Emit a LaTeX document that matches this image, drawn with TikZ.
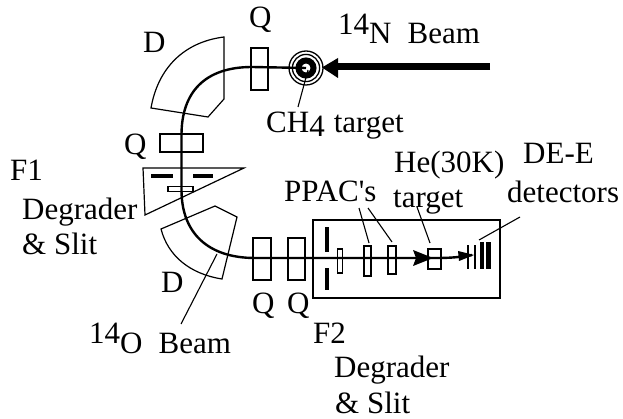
\documentclass[tikz,border=0pt]{standalone}
\usepackage{fontspec}
\setmainfont{Liberation Serif}[Ligatures=TeXOff]
\tikzset{
 lbl/.style={inner sep=0pt,anchor=base west,font=\fontsize{31}{33}\selectfont},
 part/.style={draw=black,line width=1.2pt,inner sep=0pt},
 thinl/.style={draw=black,line width=1.1pt},
 beam/.style={draw=black,line width=2.4pt},
 bar/.style={fill=black,draw=none,inner sep=0pt}
}
\newcommand{\upnum}[1]{\raisebox{9.5pt}{#1}}
\begin{document}
\begin{tikzpicture}[x=1pt,y=-1pt]
\useasboundingbox (0,0) rectangle (623,419);
% dipoles
\draw[part] (224,37) .. controls (184,42) and (158,68) .. (151,108) -- (208,117) -- (224,99) -- cycle;
\draw[part] (161,229) .. controls (168,256) and (190,274) .. (222,279) -- (237,217) -- (215,206) -- cycle;
% triangle F1
\draw[part] (143,168) -- (244,168) -- (145,215) -- cycle;
\node[bar,minimum width=22pt,minimum height=4.5pt] (sl1) at (162,176) {};
\node[bar,minimum width=20pt,minimum height=4.5pt] (sl2) at (203,176) {};
\node[part,minimum width=25pt,minimum height=4.5pt] (slit) at (180.5,189) {};
% quads
\node[part,minimum width=17pt,minimum height=42pt] (q1) at (259.5,69) {};
\node[part,minimum width=43pt,minimum height=18pt] (q2) at (181.5,143) {};
\node[part,minimum width=18pt,minimum height=42pt] (q3) at (262,259) {};
\node[part,minimum width=17pt,minimum height=42pt] (q4) at (296.5,259) {};
% F2 box
\node[part,minimum width=187pt,minimum height=78pt] (box) at (406.5,259) {};
\node[bar,minimum width=4.5pt,minimum height=25pt] (d1) at (327,239.5) {};
\node[bar,minimum width=4.5pt,minimum height=22pt] (d2) at (327,279) {};
\node[part,minimum width=5pt,minimum height=24pt] (p0) at (340,261) {};
\node[part,minimum width=7pt,minimum height=30pt] (p1) at (367.5,261) {};
\node[part,minimum width=8pt,minimum height=28pt] (p2) at (392,260) {};
\node[part,minimum width=13pt,minimum height=20pt] (tg) at (434.5,259) {};
% detectors
\node[bar,minimum width=1.3pt,minimum height=24pt] (e3) at (468,257) {};
\node[bar,minimum width=1.8pt,minimum height=24pt] (e4) at (475,257) {};
\node[bar,minimum width=4.5pt,minimum height=27pt] (e1) at (482,255.5) {};
\node[bar,minimum width=5pt,minimum height=27pt] (e2) at (488.5,255.5) {};
% beam
\coordinate (bs) at (490,67);
\coordinate (tc) at (306,68);
\draw[beam] (tc) -- (252,67) .. controls (205,67) and (181.5,92) .. (181.5,135) -- (181.5,190) .. controls (181.5,233) and (208,258) .. (255,258) -- (434,258) .. controls (445,258) and (455,258) .. (472,255);
% thick incoming beam
\draw[line width=7pt] (bs) -- (330,67);
\fill (322,67.5) -- (338,58) -- (338,78) -- cycle;
% internal arrows
\fill (433,258) -- (413,250) -- (416,258) -- (413,266) -- cycle;
\fill (474,255) -- (458,251) -- (459,261) -- cycle;
% target rings
\draw[line width=1.3pt] (tc) circle (17);
\draw[line width=1.3pt] (tc) circle (13.6);
\draw[line width=6pt] (tc) circle (7.5);
% labels
\node[lbl] (l1) at (338,44) {\upnum{14}N\hspace{16pt}Beam};
\node[lbl] (ch) at (266,133) {CH\raisebox{-4pt}{4}\hspace{9pt}target};
\node[lbl] (dup) at (143,53) {D};
\node[lbl] (qup) at (249,28) {Q};
\node[lbl] (qmid) at (124,155) {Q};
\node[lbl] (f1) at (10,181) {F1};
\node[lbl] (deg1) at (22,220) {Degrader};
\node[lbl] (sl1t) at (22,255) {\&\ Slit};
\node[lbl] (dlo) at (161,292) {D};
\node[lbl] (qa) at (252,313) {Q};
\node[lbl] (qb) at (287,313) {Q};
\node[lbl] (l2) at (89,353) {\upnum{14}O\hspace{16pt}Beam};
\node[lbl] (f2) at (313,343) {F2};
\node[lbl] (deg2) at (334,377) {Degrader};
\node[lbl] (sl2t) at (335,413) {\&\ Slit};
\node[lbl] (ppac) at (284,202) {PPAC's};
\node[lbl] (he) at (394,173) {He(30K)};
\node[lbl] (tgt) at (393,208) {target};
\node[lbl] (de) at (523,164) {DE-E};
\node[lbl] (det) at (507,203) {detectors};
% leaders
\coordinate (a1) at (308,70); \coordinate (a1e) at (298,107);
\draw[thinl] (a1) -- (a1e);
\coordinate (a2) at (217,254); \coordinate (a2e) at (181,324);
\draw[thinl] (a2) -- (a2e);
\coordinate (a3) at (359,208); \coordinate (a3e) at (369,243);
\draw[thinl] (a3) -- (a3e);
\coordinate (a4) at (368,208); \coordinate (a4e) at (392,242);
\draw[thinl] (a4) -- (a4e);
\coordinate (a5) at (417,207); \coordinate (a5e) at (430,243);
\draw[thinl] (a5) -- (a5e);
\coordinate (a6) at (520,217); \coordinate (a6e) at (479,240);
\draw[thinl] (a6) -- (a6e);
\end{tikzpicture}
\end{document}
